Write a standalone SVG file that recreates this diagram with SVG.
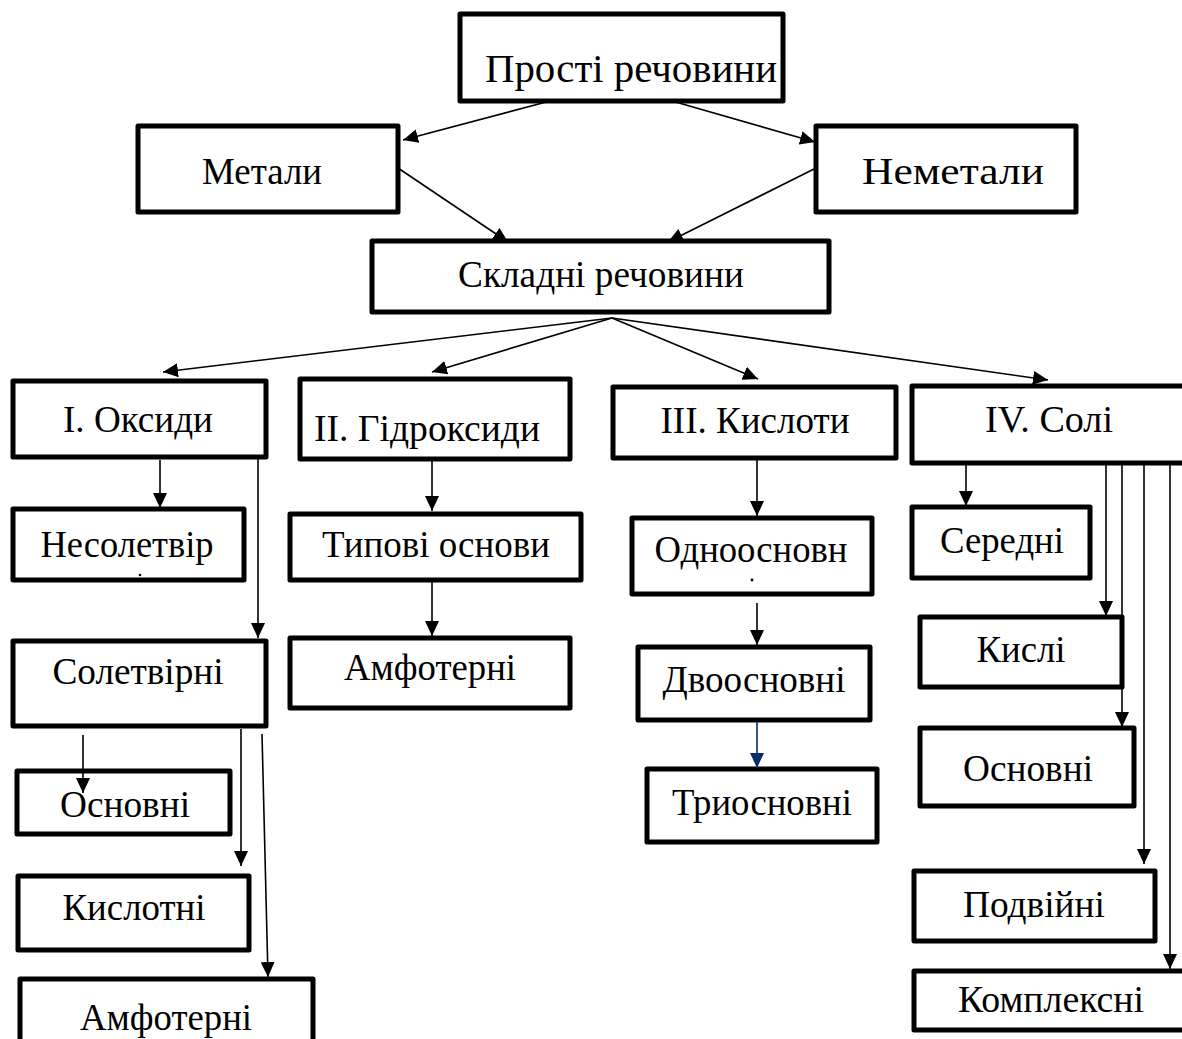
<svg xmlns="http://www.w3.org/2000/svg" width="1182" height="1039" viewBox="0 0 1182 1039">
<style>
.box{fill:#fff;stroke:#000;stroke-width:5;stroke-linejoin:round}
.t{font-family:"Liberation Serif","Times New Roman","DejaVu Serif",serif;font-size:37px;font-weight:normal;fill:#000;text-anchor:middle}
.c{stroke:#000;stroke-width:1.6;fill:none}
.n{stroke:#0a2a6b}
</style>
<defs>
<marker id="a" markerUnits="userSpaceOnUse" markerWidth="16" markerHeight="14" refX="15" refY="7" orient="auto">
<path d="M0,0 L15,7 L0,14 Z" fill="#000"/>
</marker>
<marker id="an" markerUnits="userSpaceOnUse" markerWidth="16" markerHeight="14" refX="15" refY="7" orient="auto">
<path d="M0,0 L15,7 L0,14 Z" fill="#0a2a6b"/>
</marker>
</defs>
<rect width="1182" height="1039" fill="#fff"/>

<g id="n-prosti"><rect class="box" x="460" y="14" width="323" height="87"/><text class="t" x="631" y="82" textLength="292" lengthAdjust="spacingAndGlyphs" style="font-size:40px">Прості речовини</text></g>
<g id="n-metaly"><rect class="box" x="138" y="126" width="260" height="86"/><text class="t" x="262" y="184" textLength="120" lengthAdjust="spacingAndGlyphs">Метали</text></g>
<g id="n-nemetaly"><rect class="box" x="816" y="126" width="260" height="86"/><text class="t" x="953" y="184" textLength="182" lengthAdjust="spacingAndGlyphs">Неметали</text></g>
<g id="n-skladni"><rect class="box" x="372" y="241" width="457" height="71"/><text class="t" x="601" y="287" textLength="286" lengthAdjust="spacingAndGlyphs">Складні речовини</text></g>

<g id="n-oksydy"><rect class="box" x="13" y="381" width="253" height="76"/><text class="t" x="138" y="432" textLength="150" lengthAdjust="spacingAndGlyphs">І. Оксиди</text></g>
<g id="n-hidroksydy"><rect class="box" x="300" y="379" width="270" height="80"/><text class="t" x="427" y="441" textLength="226" lengthAdjust="spacingAndGlyphs">ІІ. Гідроксиди</text></g>
<g id="n-kysloty"><rect class="box" x="613" y="387" width="283" height="71"/><text class="t" x="755" y="433" textLength="189" lengthAdjust="spacingAndGlyphs">ІІІ. Кислоти</text></g>
<g id="n-soli"><rect class="box" x="912" y="386" width="275" height="77"/><text class="t" x="1049" y="432" textLength="128" lengthAdjust="spacingAndGlyphs">IV. Солі</text></g>

<g id="n-nesoletvir"><rect class="box" x="13" y="509" width="231" height="71"/><text class="t" x="127" y="557" textLength="173" lengthAdjust="spacingAndGlyphs">Несолетвір</text><circle cx="140" cy="575" r="1.3" fill="#000"/></g>
<g id="n-soletvirni"><rect class="box" x="13" y="641" width="253" height="85"/><text class="t" x="138" y="684" textLength="171" lengthAdjust="spacingAndGlyphs">Солетвірні</text></g>
<g id="n-osnovni-o"><rect class="box" x="17" y="771" width="213" height="63"/><text class="t" x="125" y="817" textLength="130" lengthAdjust="spacingAndGlyphs">Основні</text></g>
<g id="n-kyslotni"><rect class="box" x="18" y="876" width="231" height="74"/><text class="t" x="134" y="920" textLength="143" lengthAdjust="spacingAndGlyphs">Кислотні</text></g>
<g id="n-amfoterni-o"><rect class="box" x="20" y="979" width="293" height="70"/><text class="t" x="166" y="1030" textLength="172" lengthAdjust="spacingAndGlyphs">Амфотерні</text></g>

<g id="n-typovi"><rect class="box" x="290" y="514" width="291" height="66"/><text class="t" x="436" y="557" textLength="228" lengthAdjust="spacingAndGlyphs">Типові основи</text></g>
<g id="n-amfoterni-h"><rect class="box" x="290" y="638" width="280" height="70"/><text class="t" x="430" y="680" textLength="172" lengthAdjust="spacingAndGlyphs">Амфотерні</text></g>

<g id="n-odno"><rect class="box" x="632" y="518" width="240" height="76"/><text class="t" x="751" y="562" textLength="193" lengthAdjust="spacingAndGlyphs">Одноосновн</text><circle cx="752" cy="580" r="1.4" fill="#000"/></g>
<g id="n-dvo"><rect class="box" x="638" y="647" width="232" height="73"/><text class="t" x="754" y="692" textLength="183" lengthAdjust="spacingAndGlyphs">Двоосновні</text></g>
<g id="n-try"><rect class="box" x="647" y="769" width="230" height="73"/><text class="t" x="762" y="815" textLength="180" lengthAdjust="spacingAndGlyphs">Триосновні</text></g>

<g id="n-seredni"><rect class="box" x="912" y="507" width="178" height="71"/><text class="t" x="1002" y="553" textLength="124" lengthAdjust="spacingAndGlyphs">Середні</text></g>
<g id="n-kysli"><rect class="box" x="920" y="617" width="202" height="70"/><text class="t" x="1021" y="662" textLength="89" lengthAdjust="spacingAndGlyphs">Кислі</text></g>
<g id="n-osnovni-s"><rect class="box" x="920" y="728" width="214" height="78"/><text class="t" x="1028" y="781" textLength="130" lengthAdjust="spacingAndGlyphs">Основні</text></g>
<g id="n-podviini"><rect class="box" x="914" y="871" width="241" height="70"/><text class="t" x="1034" y="917" textLength="142" lengthAdjust="spacingAndGlyphs">Подвійні</text></g>
<g id="n-kompleksni"><rect class="box" x="914" y="971" width="275" height="59"/><text class="t" x="1051" y="1012" textLength="186" lengthAdjust="spacingAndGlyphs">Комплексні</text></g>

<g id="connectors">
<line class="c" x1="550" y1="101" x2="403" y2="140" marker-end="url(#a)"/>
<line class="c" x1="672" y1="101" x2="815" y2="142" marker-end="url(#a)"/>
<line class="c" x1="398" y1="168" x2="508" y2="242" marker-end="url(#a)"/>
<line class="c" x1="816" y1="168" x2="668" y2="242" marker-end="url(#a)"/>
<line class="c" x1="612" y1="318" x2="163" y2="372" marker-end="url(#a)"/>
<line class="c" x1="612" y1="318" x2="432" y2="372" marker-end="url(#a)"/>
<line class="c" x1="612" y1="318" x2="758" y2="379" marker-end="url(#a)"/>
<line class="c" x1="612" y1="318" x2="1048" y2="380" marker-end="url(#a)"/>
<line class="c" x1="160" y1="460" x2="160" y2="508" marker-end="url(#a)"/>
<line class="c" x1="258" y1="458" x2="258" y2="638" marker-end="url(#a)"/>
<line class="c" x1="83" y1="735" x2="83" y2="793" marker-end="url(#a)"/>
<line class="c" x1="241" y1="729" x2="241" y2="866" marker-end="url(#a)"/>
<line class="c" x1="262" y1="734" x2="268" y2="977" marker-end="url(#a)"/>
<line class="c" x1="432" y1="461" x2="432" y2="511" marker-end="url(#a)"/>
<line class="c" x1="432" y1="582" x2="432" y2="636" marker-end="url(#a)"/>
<line class="c" x1="757" y1="460" x2="757" y2="516" marker-end="url(#a)"/>
<line class="c" x1="757" y1="603" x2="757" y2="645" marker-end="url(#a)"/>
<line class="c n" x1="757" y1="722" x2="757" y2="768" marker-end="url(#an)"/>
<line class="c" x1="966" y1="465" x2="966" y2="506" marker-end="url(#a)"/>
<line class="c" x1="1106" y1="465" x2="1106" y2="616" marker-end="url(#a)"/>
<line class="c" x1="1122" y1="465" x2="1122" y2="727" marker-end="url(#a)"/>
<line class="c" x1="1144" y1="465" x2="1144" y2="864" marker-end="url(#a)"/>
<line class="c" x1="1170" y1="465" x2="1170" y2="969" marker-end="url(#a)"/>
</g>
</svg>
